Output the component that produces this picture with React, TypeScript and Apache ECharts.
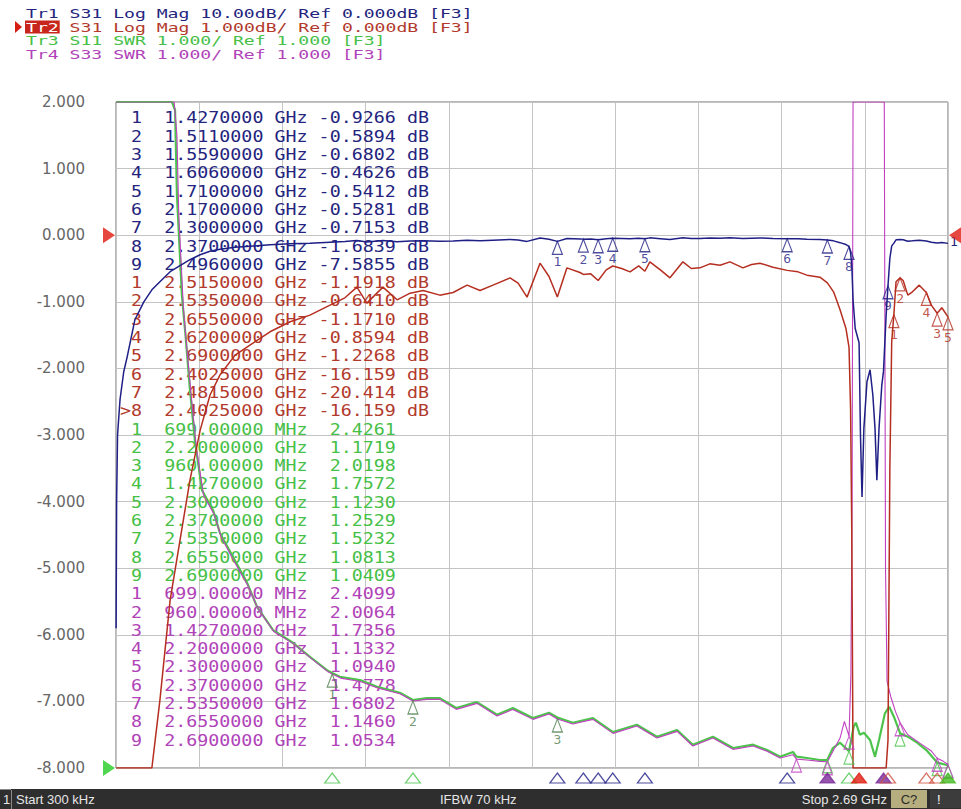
import React, { useEffect, useRef } from "react";
import * as echarts from "echarts";

// ---------- sweep / scale ----------
const F_START = 0; // GHz (300 kHz ~ 0)
const F_STOP = 2.69; // GHz
const F_DIV = 0.269;
const TR2_MIN = -8; // Tr2: 1 dB/div, ref 0 dB
const TR2_MAX = 2;
const TR1_MIN = -80; // Tr1: 10 dB/div, ref 0 dB
const TR1_MAX = 20;
const SWR_MIN = 1; // Tr3/Tr4: SWR 1/div, ref 1.000
const SWR_MAX = 11;

// ---------- measured traces [GHz, value] ----------
// S31 transmission (dB) — shown as Tr1 (10 dB/div) and Tr2 (1 dB/div)
const s31: [number, number][] = [
  [0.0003, -59], [0.002, -40], [0.005, -30], [0.013, -24.7], [0.025, -20.5], [0.036, -18.3],
  [0.061, -12.7], [0.09, -10.0], [0.116, -8.2], [0.142, -6.98], [0.175, -5.48], [0.207, -4.58],
  [0.239, -3.68], [0.272, -2.93], [0.304, -2.4], [0.336, -2.1], [0.385, -1.8], [0.433, -1.65],
  [0.498, -1.45], [0.563, -1.3], [0.627, -1.2], [0.692, -1.05], [0.74, -0.94], [0.779, -0.78],
  [0.811, -1.02], [0.863, -0.78], [0.909, -0.97], [0.951, -0.87], [0.993, -0.83], [1.047, -0.9],
  [1.09, -0.86], [1.135, -0.75], [1.177, -0.83], [1.219, -0.75], [1.274, -0.64], [1.3, -0.72],
  [1.329, -0.93], [1.371, -0.42], [1.4, -0.62], [1.427, -0.9266], [1.458, -0.49], [1.5, -0.56],
  [1.511, -0.5894], [1.535, -0.58], [1.559, -0.6802], [1.585, -0.52], [1.606, -0.4626], [1.635, -0.5],
  [1.662, -0.55], [1.69, -0.46], [1.71, -0.5412], [1.726, -0.4], [1.76, -0.52], [1.791, -0.64],
  [1.833, -0.4], [1.86, -0.5], [1.888, -0.49], [1.92, -0.43], [1.953, -0.45], [1.985, -0.4],
  [2.027, -0.49], [2.055, -0.44], [2.082, -0.42], [2.124, -0.48], [2.17, -0.5281], [2.205, -0.55],
  [2.234, -0.6], [2.276, -0.63], [2.3, -0.7153], [2.32, -0.85], [2.341, -1.12], [2.36, -1.4],
  [2.37, -1.6839], [2.375, -2.6], [2.379, -4.5], [2.383, -9.7], [2.39, -14], [2.4025, -16.159],
  [2.407, -30], [2.412, -39.3], [2.418, -29], [2.428, -22], [2.438, -20.2], [2.447, -24],
  [2.454, -29], [2.46, -36.8], [2.467, -29], [2.476, -22.5], [2.4815, -20.414], [2.49, -12],
  [2.496, -7.5855], [2.502, -3.5], [2.508, -1.6], [2.515, -1.1918], [2.522, -0.7], [2.535, -0.641],
  [2.545, -0.68], [2.56, -0.9], [2.575, -0.85], [2.597, -0.75], [2.62, -0.8594], [2.636, -1.05],
  [2.655, -1.171], [2.67, -1.09], [2.69, -1.2268],
];

// S11 SWR (Tr3)
const s11: [number, number][] = [
  [0.0003, 11], [0.181, 11], [0.191, 10.88], [0.197, 9.6], [0.213, 8.1], [0.226, 7.43],
  [0.239, 6.68], [0.255, 5.92], [0.278, 5.17], [0.314, 4.87], [0.336, 4.53], [0.378, 4.17],
  [0.424, 3.78], [0.456, 3.42], [0.508, 3.07], [0.572, 2.88], [0.627, 2.67], [0.682, 2.47],
  [0.699, 2.4261], [0.724, 2.37], [0.789, 2.32], [0.844, 2.22], [0.918, 2.13], [0.96, 2.0198],
  [1.005, 2.05], [1.047, 2.05], [1.1, 1.9], [1.167, 1.99], [1.232, 1.8], [1.283, 1.9],
  [1.348, 1.75], [1.4, 1.83], [1.427, 1.7572], [1.477, 1.68], [1.542, 1.75], [1.607, 1.54],
  [1.684, 1.65], [1.749, 1.47], [1.814, 1.57], [1.865, 1.35], [1.93, 1.47], [1.995, 1.3],
  [2.06, 1.35], [2.105, 1.27], [2.147, 1.17], [2.189, 1.24], [2.2, 1.1719], [2.234, 1.15],
  [2.276, 1.12], [2.3, 1.123], [2.318, 1.3], [2.341, 1.38], [2.37, 1.2529], [2.385, 1.62],
  [2.392, 1.68], [2.405, 1.5], [2.418, 1.53], [2.438, 1.42], [2.454, 1.17], [2.467, 1.42],
  [2.486, 1.82], [2.5, 1.92], [2.515, 1.77], [2.535, 1.5232], [2.56, 1.47], [2.59, 1.38],
  [2.62, 1.27], [2.655, 1.0813], [2.69, 1.0409],
];

// S33 SWR (Tr4)
const s33: [number, number][] = [
  [0.0003, 11], [0.188, 11], [0.197, 10.5], [0.203, 9.3], [0.218, 7.9], [0.231, 7.2],
  [0.245, 6.5], [0.26, 5.8], [0.283, 5.1], [0.318, 4.8], [0.34, 4.47], [0.38, 4.12],
  [0.426, 3.74], [0.458, 3.4], [0.51, 3.05], [0.575, 2.86], [0.63, 2.65], [0.684, 2.45],
  [0.699, 2.4099], [0.726, 2.35], [0.79, 2.3], [0.846, 2.2], [0.92, 2.11], [0.96, 2.0064],
  [1.005, 2.03], [1.047, 2.03], [1.1, 1.88], [1.167, 1.97], [1.232, 1.78], [1.283, 1.88],
  [1.348, 1.73], [1.4, 1.81], [1.427, 1.7356], [1.477, 1.66], [1.542, 1.73], [1.607, 1.52],
  [1.684, 1.63], [1.749, 1.45], [1.814, 1.55], [1.865, 1.33], [1.93, 1.45], [1.995, 1.28],
  [2.06, 1.33], [2.105, 1.25], [2.147, 1.15], [2.189, 1.2], [2.2, 1.1332], [2.234, 1.12],
  [2.276, 1.1], [2.3, 1.094], [2.318, 1.25], [2.341, 1.45], [2.355, 1.7], [2.37, 1.4778],
  [2.376, 2.4], [2.38, 5.0], [2.383, 11], [2.484, 11], [2.488, 4.0], [2.493, 2.3],
  [2.505, 2.07], [2.52, 1.85], [2.535, 1.6802], [2.56, 1.5], [2.6, 1.37], [2.635, 1.26],
  [2.655, 1.146], [2.675, 1.1], [2.69, 1.0534],
];

// ---------- marker tables ----------
const tr1MkFreq = [1.427, 1.511, 1.559, 1.606, 1.71, 2.17, 2.3, 2.37, 2.496];
const tr1MkVal = [-0.9266, -0.5894, -0.6802, -0.4626, -0.5412, -0.5281, -0.7153, -1.6839, -7.5855];
const tr2MkFreq = [2.515, 2.535, 2.655, 2.62, 2.69, 2.4025, 2.4815, 2.4025];
const tr2MkVal = [-1.1918, -0.641, -1.171, -0.8594, -1.2268, -16.159, -20.414, -16.159];
const tr2Active = 8;
const tr3MkFreq = [0.699, 2.2, 0.96, 1.427, 2.3, 2.37, 2.535, 2.655, 2.69];
const tr3MkVal = [2.4261, 1.1719, 2.0198, 1.7572, 1.123, 1.2529, 1.5232, 1.0813, 1.0409];
const tr4MkFreq = [0.699, 0.96, 1.427, 2.2, 2.3, 2.37, 2.535, 2.655, 2.69];
const tr4MkVal = [2.4099, 2.0064, 1.7356, 1.1332, 1.094, 1.4778, 1.6802, 1.146, 1.0534];

// bottom marker position indicators (GHz)
const indNavyHollow = [1.427, 1.511, 1.559, 1.606, 1.71, 2.17];
const indGreenHollow = [0.699, 0.96, 2.37];
const indPurpleFilled = [2.3, 2.4815];
const indRedFilled = [2.4025];
const indRedHollow = [2.496, 2.62, 2.655];
const indGreenFilled = [2.69];

// ---------- header / status text ----------
const headerLines = [
  "Tr1 S31 Log Mag 10.00dB/ Ref 0.000dB [F3]",
  "Tr2 S31 Log Mag 1.000dB/ Ref 0.000dB [F3]",
  "Tr3 S11 SWR 1.000/ Ref 1.000 [F3]",
  "Tr4 S33 SWR 1.000/ Ref 1.000 [F3]",
];
const statusStart = "Start 300 kHz";
const statusIfbw = "IFBW 70 kHz";
const statusStop = "Stop 2.69 GHz";

// ---------- colours ----------
const C_TR1 = "#1f1f86";
const C_TR2 = "#b52e20";
const C_TR3 = "#4cc44c";
const C_TR4 = "#c040c0";
const C_TR1_TXT = "#24247e";
const C_TR2_TXT = "#b23a2c";
const C_TR3_TXT = "#46c046";
const C_TR4_TXT = "#b043b8";

function fmtFreq(f: number) {
  return f < 1 ? (f * 1000).toFixed(5) + " MHz" : f.toFixed(7) + " GHz";
}
function fmtDb(v: number) {
  return (Math.abs(v) >= 10 ? v.toFixed(3) : v.toFixed(4)).padStart(7) + " dB";
}
function fmtSwr(v: number) {
  return v.toFixed(4).padStart(7);
}
function row(n: number, f: number, val: string, active: boolean) {
  return (active ? ">" : " ") + String(n) + "  " + fmtFreq(f) + " " + val;
}

function buildTableRows() {
  const rows: { text: string; color: string }[] = [];
  tr1MkFreq.forEach((f, i) => rows.push({ text: row(i + 1, f, fmtDb(tr1MkVal[i]), false), color: C_TR1_TXT }));
  tr2MkFreq.forEach((f, i) =>
    rows.push({ text: row(i + 1, f, fmtDb(tr2MkVal[i]), i + 1 === tr2Active), color: C_TR2_TXT })
  );
  tr3MkFreq.forEach((f, i) => rows.push({ text: row(i + 1, f, fmtSwr(tr3MkVal[i]), false), color: C_TR3_TXT }));
  tr4MkFreq.forEach((f, i) => rows.push({ text: row(i + 1, f, fmtSwr(tr4MkVal[i]), false), color: C_TR4_TXT }));
  return rows;
}

function markerSeries(
  freqs: number[],
  vals: number[],
  yAxisIndex: number,
  color: string,
  labels: string[] | null
) {
  return {
    type: "scatter",
    yAxisIndex,
    clip: false,
    silent: true,
    z: 6,
    symbol: "triangle",
    symbolSize: [10, 13],
    symbolOffset: [0, 6.5],
    itemStyle: { color: "rgba(255,255,255,0)", borderColor: color, borderWidth: 1.2 },
    label: {
      show: !!labels,
      position: "bottom",
      distance: 0,
      color,
      fontSize: 13,
      fontFamily: "DejaVu Sans Mono",
      formatter: (p: any) => p.name,
    },
    data: freqs.map((f, i) => ({ name: labels ? labels[i] : "", value: [f, vals[i]] })),
  };
}

function indicatorSeries(freqs: number[], color: string, filled: boolean) {
  return {
    type: "scatter",
    yAxisIndex: 0,
    clip: false,
    silent: true,
    z: 6,
    symbol: "triangle",
    symbolSize: [15, 10],
    symbolOffset: [0, 10],
    itemStyle: { color: filled ? color : "rgba(255,255,255,0)", borderColor: color, borderWidth: 1.2 },
    data: freqs.map((f) => [f, TR2_MIN]),
  };
}

function refSeries(value: [number, number], yAxisIndex: number, color: string, pointRight: boolean) {
  return {
    type: "scatter",
    yAxisIndex,
    clip: false,
    silent: true,
    z: 7,
    symbol: "triangle",
    symbolSize: [16, 12],
    symbolRotate: pointRight ? -90 : 90,
    symbolOffset: [pointRight ? -7 : 7, 0],
    itemStyle: { color },
    data: [value],
  };
}

function line(data: [number, number][], yAxisIndex: number, color: string, width: number) {
  return {
    type: "line",
    yAxisIndex,
    data,
    showSymbol: false,
    symbol: "none",
    silent: true,
    clip: true,
    lineStyle: { color, width },
  };
}

export default function App() {
  const ref = useRef<HTMLDivElement>(null);

  useEffect(() => {
    if (!ref.current) return;
    const chart = echarts.init(ref.current, undefined, { renderer: "svg" });

    const tr2Data = s31.map(([f, v]) => [f, Math.max(TR2_MIN, Math.min(TR2_MAX, v))] as [number, number]);

    const MONO = "DejaVu Sans Mono";
    const graphic: any[] = [];

    // header
    const hdrColors = [C_TR1_TXT, C_TR2_TXT, C_TR3_TXT, C_TR4_TXT];
    const hdrY = [13, 27, 40.5, 54];
    const hdrX = 26;
    const hdrCharW = 10.9;
    const hdrFont = 13;
    const hdrScale = hdrCharW / (0.602 * hdrFont);
    headerLines.forEach((t, i) => {
      if (i === 1) {
        graphic.push({
          type: "rect",
          shape: { x: hdrX - 1, y: hdrY[i] - 6.5, width: hdrCharW * 3 + 2, height: 13 },
          style: { fill: "#c8261c" },
        });
        graphic.push({
          type: "polygon",
          shape: { points: [[15, hdrY[i] - 6], [22, hdrY[i]], [15, hdrY[i] + 6]] },
          style: { fill: "#d41e14" },
        });
        graphic.push({
          type: "text",
          x: hdrX,
          y: hdrY[i],
          scaleX: hdrScale,
          style: { text: t.slice(0, 3), fill: "#ffffff", fontSize: hdrFont, fontFamily: MONO, textAlign: "left", textVerticalAlign: "middle" },
        });
        graphic.push({
          type: "text",
          x: hdrX + hdrCharW * 3,
          y: hdrY[i],
          scaleX: hdrScale,
          style: { text: t.slice(3), fill: hdrColors[i], fontSize: hdrFont, fontFamily: MONO, textAlign: "left", textVerticalAlign: "middle" },
        });
      } else {
        graphic.push({
          type: "text",
          x: hdrX,
          y: hdrY[i],
          scaleX: hdrScale,
          style: { text: t, fill: hdrColors[i], fontSize: hdrFont, fontFamily: MONO, textAlign: "left", textVerticalAlign: "middle" },
        });
      }
    });

    // marker table
    const rows = buildTableRows();
    const tblX = 120;
    const tblY0 = 118;
    const tblPitch = 18.3;
    const tblFont = 15.5;
    const tblScale = 11.04 / (0.602 * tblFont);
    rows.forEach((r, i) => {
      graphic.push({
        type: "text",
        x: tblX,
        y: tblY0 + i * tblPitch,
        scaleX: tblScale,
        z: 1,
        style: { text: r.text, fill: r.color, fontSize: tblFont, fontFamily: MONO, textAlign: "left", textVerticalAlign: "middle" },
      });
    });

    // Tr1 ref label at right edge
    graphic.push({
      type: "text",
      x: 950,
      y: 241,
      style: { text: "1", fill: C_TR1_TXT, fontSize: 13, fontFamily: MONO, textAlign: "left", textVerticalAlign: "middle" },
    });

    // status bar
    const barY = 789;
    const SANS = "Liberation Sans";
    graphic.push({ type: "rect", shape: { x: 0, y: barY, width: 961, height: 20 }, style: { fill: "#2e2e2e" } });
    graphic.push({ type: "line", shape: { x1: 11.5, y1: barY + 1, x2: 11.5, y2: 809 }, style: { stroke: "#8a8a8a", lineWidth: 1 } });
    graphic.push({ type: "line", shape: { x1: 0, y1: barY + 0.5, x2: 11, y2: barY + 0.5 }, style: { stroke: "#8a8a8a", lineWidth: 1 } });
    const barText = (t: string, x: number, align: string, fill = "#e6e6e6") => ({
      type: "text",
      x,
      y: barY + 10.5,
      scaleX: 1.0,
      style: { text: t, fill, fontSize: 13, fontFamily: SANS, textAlign: align, textVerticalAlign: "middle" },
    });
    graphic.push(barText("1", 3, "left"));
    graphic.push(barText(statusStart, 16, "left"));
    graphic.push(barText(statusIfbw, 440, "left"));
    graphic.push(barText(statusStop, 887, "right"));
    graphic.push({ type: "rect", shape: { x: 891, y: barY + 1, width: 36, height: 18 }, style: { fill: "#b6ae7e" } });
    graphic.push(barText("C?", 909, "center", "#2a2a2a"));
    graphic.push({ type: "rect", shape: { x: 930, y: barY + 1, width: 31, height: 18 }, style: { fill: "#3c3c3c" } });
    graphic.push(barText("!", 937, "left", "#ffffff"));

    const option: any = {
      animation: false,
      backgroundColor: "#ffffff",
      textStyle: { fontFamily: "DejaVu Sans" },
      grid: {
        left: 116,
        top: 102,
        width: 832,
        height: 666,
        show: true,
        borderColor: "#6e6e6e",
        borderWidth: 1,
        backgroundColor: "rgba(0,0,0,0)",
      },
      xAxis: {
        type: "value",
        min: F_START,
        max: F_STOP,
        interval: F_DIV,
        axisLabel: { show: false },
        axisLine: { show: false },
        axisTick: { show: false },
        splitLine: { show: true, lineStyle: { color: "#c4c4c4", width: 1 } },
      },
      yAxis: [
        {
          type: "value",
          min: TR2_MIN,
          max: TR2_MAX,
          interval: 1,
          axisLabel: {
            formatter: (v: number) => v.toFixed(3),
            color: "#666666",
            fontSize: 15,
            fontFamily: "DejaVu Sans",
            margin: 31,
          },
          axisLine: { show: false },
          axisTick: { show: false },
          splitLine: { show: true, lineStyle: { color: "#c4c4c4", width: 1 } },
        },
        { type: "value", min: TR1_MIN, max: TR1_MAX, show: false, splitLine: { show: false } },
        { type: "value", min: SWR_MIN, max: SWR_MAX, show: false, splitLine: { show: false } },
      ],
      series: [
        line(s11, 2, C_TR3, 2.2),
        line(s33, 2, C_TR4, 1.1),
        line(tr2Data, 0, C_TR2, 1.5),
        line(s31, 1, C_TR1, 1.5),
        markerSeries(tr1MkFreq, tr1MkVal, 1, C_TR1, tr1MkFreq.map((_, i) => String(i + 1))),
        markerSeries(tr2MkFreq.slice(0, 5), tr2MkVal.slice(0, 5), 0, C_TR2, ["1", "2", "3", "4", "5"]),
        markerSeries(tr4MkFreq.slice(0, 3), tr4MkVal.slice(0, 3), 2, "#4f7f4f", ["1", "2", "3"]),
        markerSeries(tr3MkFreq.slice(4), tr3MkVal.slice(4), 2, C_TR3, null),
        markerSeries(tr4MkFreq.slice(3), tr4MkVal.slice(3), 2, C_TR4, null),
        indicatorSeries(indNavyHollow, C_TR1, false),
        indicatorSeries(indGreenHollow, C_TR3, false),
        indicatorSeries(indPurpleFilled, "#7a2a9a", true),
        indicatorSeries(indRedFilled, "#e01c10", true),
        indicatorSeries(indRedHollow, "#d05040", false),
        indicatorSeries(indGreenFilled, "#44bb22", true),
        refSeries([F_START, 0], 0, "#e01a10", true),
        refSeries([F_STOP, 0], 0, "#e01a10", false),
        refSeries([F_START, 1], 2, "#22cc22", true),
      ],
      graphic: { elements: graphic },
    };

    chart.setOption(option);
    return () => chart.dispose();
  }, []);

  return (
    <div
      ref={ref}
      style={{ position: "fixed", left: 0, top: 0, width: 961, height: 809, background: "#ffffff" }}
    />
  );
}
